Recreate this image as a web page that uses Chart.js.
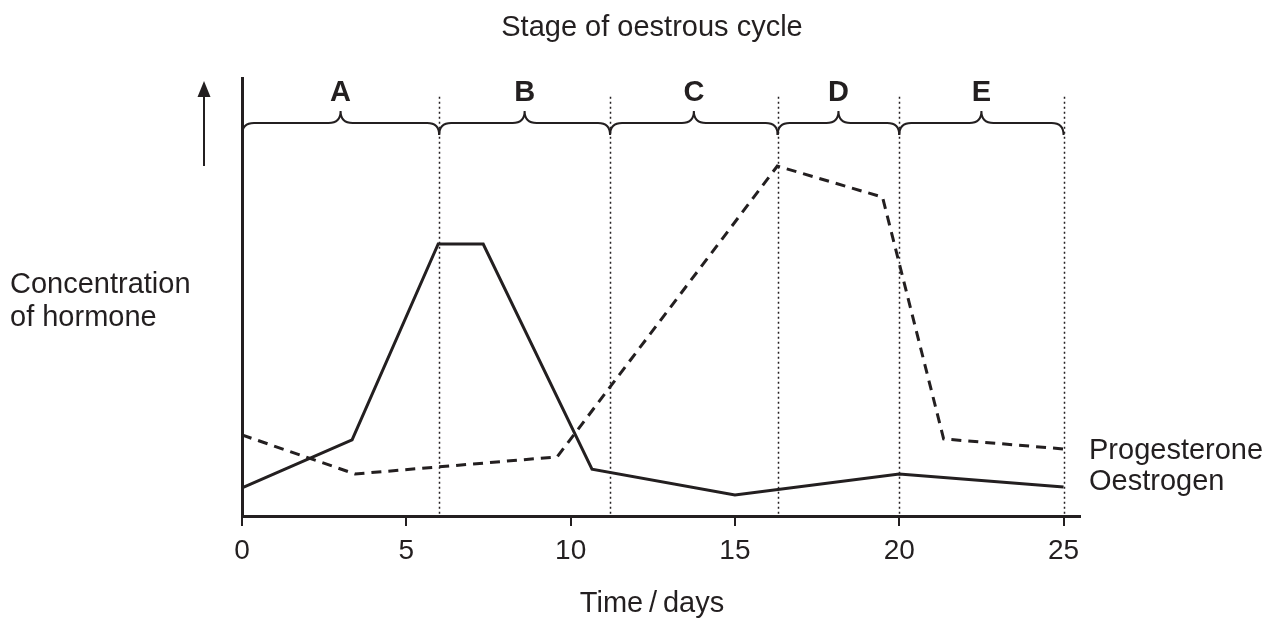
<!DOCTYPE html>
<html>
<head>
<meta charset="utf-8">
<script src="https://cdn.jsdelivr.net/npm/chart.js@4"></script>
<style>
  html, body { margin: 0; padding: 0; background: #fff; }
  #wrap { width: 1269px; height: 619px; }
</style>
</head>
<body>
<div id="wrap"><canvas id="chart" width="1269" height="619"></canvas></div>
<script>
// values (x in days, y in arbitrary units 0-100)
const oestrogenDays = [0, 3.35, 5.97, 7.34, 10.65, 15, 20, 25];
const oestrogenLevel = [6.4, 17.4, 62.1, 62.1, 10.7, 4.8, 9.6, 6.6];
const progesteroneDays = [0, 3.44, 9.59, 16.29, 19.49, 21.35, 25];
const progesteroneLevel = [18.5, 9.6, 13.5, 79.9, 72.8, 17.6, 15.3];
const stageBounds = [0, 6, 11.2, 16.3, 20, 25];
const stageNames = ["A", "B", "C", "D", "E"];
const xTicks = [0, 5, 10, 15, 20, 25];

const ink = "#231f20";
const font = "'Liberation Sans', Arial, sans-serif";

function toPoints(xs, ys) {
  return xs.map((x, i) => ({ x: x, y: ys[i] }));
}

const stagePlugin = {
  id: "stages",
  afterDatasetsDraw(chart) {
    const ctx = chart.ctx;
    const xs = chart.scales.x;
    const ys = chart.scales.y;
    const area = chart.chartArea;
    const braceY = ys.getPixelForValue(89.7);
    const dotTop = ys.getPixelForValue(95.7);
    const r = 12;

    ctx.save();
    // dotted stage dividers
    ctx.strokeStyle = ink;
    ctx.lineWidth = 1.5;
    ctx.setLineDash([2, 3]);
    stageBounds.slice(1).forEach(b => {
      const px = Math.round(xs.getPixelForValue(b)) + 0.5;
      ctx.beginPath();
      ctx.moveTo(px, dotTop);
      ctx.lineTo(px, area.bottom);
      ctx.stroke();
    });
    ctx.setLineDash([]);

    // curly braces + letters
    ctx.lineWidth = 2;
    ctx.fillStyle = ink;
    ctx.font = "bold 29px " + font;
    ctx.textAlign = "center";
    ctx.textBaseline = "alphabetic";
    for (let i = 0; i < stageNames.length; i++) {
      const x1 = xs.getPixelForValue(stageBounds[i]);
      const x2 = xs.getPixelForValue(stageBounds[i + 1]);
      const mid = (x1 + x2) / 2;
      ctx.beginPath();
      ctx.moveTo(x1, braceY + r);
      ctx.quadraticCurveTo(x1, braceY, x1 + r, braceY);
      ctx.lineTo(mid - r, braceY);
      ctx.quadraticCurveTo(mid, braceY, mid, braceY - r);
      ctx.quadraticCurveTo(mid, braceY, mid + r, braceY);
      ctx.lineTo(x2 - r, braceY);
      ctx.quadraticCurveTo(x2, braceY, x2, braceY + r);
      ctx.stroke();
      ctx.fillText(stageNames[i], mid, braceY - 22);
    }

    // series labels at the right end of each line
    ctx.font = "29px " + font;
    ctx.textAlign = "left";
    const lastP = progesteroneLevel[progesteroneLevel.length - 1];
    const lastO = oestrogenLevel[oestrogenLevel.length - 1];
    ctx.fillText("Progesterone", area.right + 9, ys.getPixelForValue(lastP) + 10);
    ctx.fillText("Oestrogen", area.right + 9, ys.getPixelForValue(lastO) + 3);

    // titles
    ctx.textAlign = "center";
    ctx.fillText("Stage of oestrous cycle", 652, 36);
    ctx.fillText("Time\u2009/\u2009days", 652, 612);
    ctx.textAlign = "left";
    ctx.fillText("Concentration", 10, 293);
    ctx.fillText("of hormone", 10, 326);

    // upward arrow next to the y axis
    const ax = area.left - 38;
    ctx.lineWidth = 2;
    ctx.beginPath();
    ctx.moveTo(ax, 166);
    ctx.lineTo(ax, 92);
    ctx.stroke();
    ctx.beginPath();
    ctx.moveTo(ax, 81);
    ctx.lineTo(ax - 6.5, 97);
    ctx.lineTo(ax + 6.5, 97);
    ctx.closePath();
    ctx.fill();
    ctx.restore();
  }
};

function createChart() {
  const ctx = document.getElementById("chart").getContext("2d");
  new Chart(ctx, {
    type: "line",
    data: {
      datasets: [
        {
          label: "Oestrogen",
          data: toPoints(oestrogenDays, oestrogenLevel),
          borderColor: ink,
          borderWidth: 3,
          pointRadius: 0,
          tension: 0
        },
        {
          label: "Progesterone",
          data: toPoints(progesteroneDays, progesteroneLevel),
          borderColor: ink,
          borderWidth: 3,
          borderDash: [10, 7],
          pointRadius: 0,
          tension: 0
        }
      ]
    },
    options: {
      responsive: false,
      animation: false,
      layout: { padding: { left: 232, right: 189, top: 78, bottom: 0 } },
      scales: {
        x: {
          type: "linear",
          min: 0,
          max: 25.5,
          afterBuildTicks: s => { s.ticks = xTicks.map(v => ({ value: v })); },
          afterFit: s => { s.height = 103; },
          border: { display: true, color: ink, width: 3 },
          grid: { display: true, drawOnChartArea: false, drawTicks: true, tickLength: 10, color: ink, lineWidth: 2 },
          ticks: { color: ink, font: { family: font, size: 28 }, padding: 8, maxRotation: 0 },
          title: { display: false }
        },
        y: {
          min: 0,
          max: 100,
          afterFit: s => { s.width = 10; },
          border: { display: true, color: ink, width: 3 },
          grid: { display: false },
          ticks: { display: false }
        }
      },
      plugins: {
        legend: { display: false },
        tooltip: { enabled: false }
      }
    },
    plugins: [stagePlugin]
  });
}

window.onload = createChart;
</script>
</body>
</html>
